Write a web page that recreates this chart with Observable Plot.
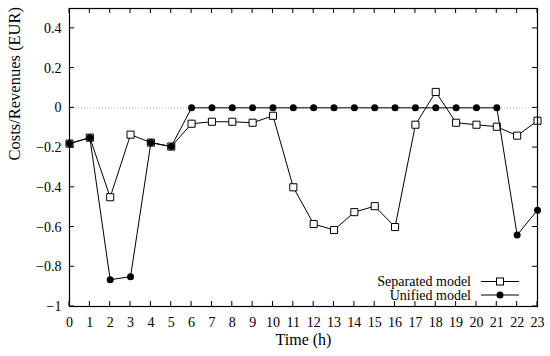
<!DOCTYPE html>
<html><head><meta charset="utf-8">
<script src="https://cdn.jsdelivr.net/npm/d3@7"></script>
<script src="https://cdn.jsdelivr.net/npm/@observablehq/plot@0.6"></script>
<style>body{margin:0;background:#fff} svg text{font-family:"Liberation Serif","Times New Roman",Times,serif !important;}</style>
</head><body><div id="chart"></div>
<script>
const hours = [0,1,2,3,4,5,6,7,8,9,10,11,12,13,14,15,16,17,18,19,20,21,22,23];
const separated = [-0.18,-0.15,-0.45,-0.135,-0.175,-0.195,-0.08,-0.07,-0.07,-0.075,-0.04,-0.40,-0.585,-0.615,-0.525,-0.495,-0.60,-0.085,0.08,-0.075,-0.085,-0.095,-0.14,-0.065];
const unified = [-0.18,-0.15,-0.865,-0.85,-0.175,-0.195,0,0,0,0,0,0,0,0,0,0,0,0,0,0,0,0,-0.64,-0.515];
const yTicks = [-1,-0.8,-0.6,-0.4,-0.2,0,0.2,0.4];
const xTicks = hours;
const seriesNames = ["Separated model","Unified model"];
const xLabel = "Time (h)";
const yLabel = "Costs/Revenues (EUR)";

const sepData = hours.map((h,i)=>({h, v: separated[i]}));
const uniData = hours.map((h,i)=>({h, v: unified[i]}));

const FONT = "'Liberation Serif', 'Times New Roman', Times, serif";

// inward ticks on all four sides (gnuplot style), placed with Plot's scales
function innerTicks(index, scales, values, dim) {
  const {x, y} = scales;
  const L = 5;
  const top = dim.marginTop, bottom = dim.height - dim.marginBottom;
  const left = dim.marginLeft, right = dim.width - dim.marginRight;
  const g = d3.create("svg:g").attr("stroke", "black").attr("stroke-width", 1);
  for (const t of xTicks) {
    const px = x(t);
    g.append("line").attr("x1", px).attr("x2", px).attr("y1", bottom).attr("y2", bottom - L);
    g.append("line").attr("x1", px).attr("x2", px).attr("y1", top).attr("y2", top + L);
  }
  for (const t of yTicks) {
    const py = y(t);
    g.append("line").attr("y1", py).attr("y2", py).attr("x1", left).attr("x2", left + L);
    g.append("line").attr("y1", py).attr("y2", py).attr("x1", right).attr("x2", right - L);
  }
  return g.node();
}

function legend(index, scales, values, dim) {
  const right = dim.width - dim.marginRight;
  const bottom = dim.height - dim.marginBottom;
  const g = d3.create("svg:g").attr("font-size", 14);
  seriesNames.forEach((name, i) => {
    const yy = bottom - 24.5 + i * 13.5;
    g.append("text").attr("x", right - 66).attr("y", yy).attr("dy", "0.33em")
      .attr("text-anchor", "end").attr("fill", "black").text(name);
    g.append("line").attr("x1", right - 56).attr("x2", right - 18).attr("y1", yy).attr("y2", yy)
      .attr("stroke", "black").attr("stroke-width", 1);
    if (i === 0) {
      g.append("rect").attr("x", right - 37 - 3.5).attr("y", yy - 3.5).attr("width", 7).attr("height", 7)
        .attr("fill", "white").attr("stroke", "black");
    } else {
      g.append("circle").attr("cx", right - 37).attr("cy", yy).attr("r", 3.5).attr("fill", "black");
    }
  });
  return g.node();
}

const chart = Plot.plot({
  width: 550,
  height: 356,
  marginLeft: 69,
  marginRight: 13,
  marginTop: 8,
  marginBottom: 50,
  style: {fontFamily: FONT, fontSize: "14px", color: "black", background: "white"},
  x: {domain: [0, 23]},
  y: {domain: [-1, 0.5]},
  marks: [
    Plot.ruleY([0], {stroke: "#aaa", strokeDasharray: "1,2"}),
    Plot.axisX(xTicks, {tickSize: 0, tickPadding: 11, label: null, fontSize: 14}),
    Plot.axisY(yTicks, {tickSize: 0, tickPadding: 8, label: null, tickFormat: d3.format("~f"), fontSize: 14}),
    Plot.text([xLabel], {frameAnchor: "bottom", dy: 38, text: d => d, fontSize: 16}),
    Plot.text([yLabel], {frameAnchor: "left", dx: -55, dy: 3, rotate: -90, text: d => d, fontSize: 16.5}),
    Plot.line(sepData, {x: "h", y: "v", stroke: "black", strokeWidth: 1}),
    Plot.dot(sepData, {x: "h", y: "v", symbol: "square", r: 4, stroke: "black", fill: "white", strokeWidth: 1}),
    Plot.line(uniData, {x: "h", y: "v", stroke: "black", strokeWidth: 1}),
    Plot.dot(uniData, {x: "h", y: "v", r: 3.5, fill: "black"}),
    innerTicks,
    Plot.frame({stroke: "black", strokeWidth: 1.2}),
    legend
  ]
});
document.getElementById("chart").append(chart);
</script>
</body></html>
